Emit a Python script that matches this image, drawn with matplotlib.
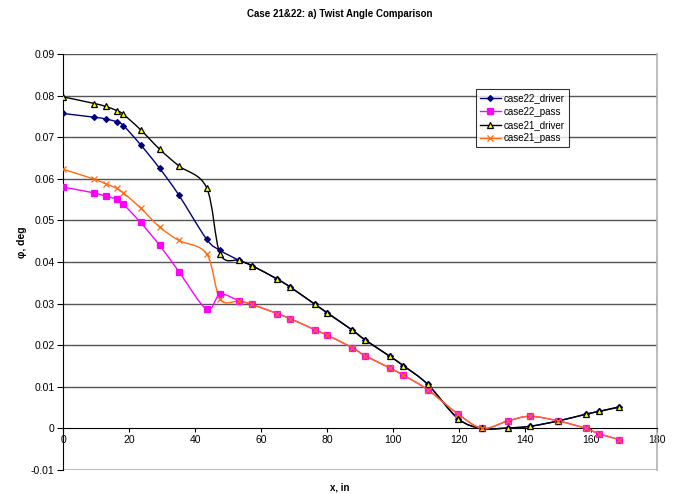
import numpy as np
import matplotlib
matplotlib.use("Agg")
import matplotlib.pyplot as plt
from matplotlib.path import Path
from matplotlib.patches import PathPatch
from matplotlib.lines import Line2D

plt.rcParams["font.family"] = ["Liberation Sans", "DejaVu Sans"]

x_in = [0, 9.5, 12.9, 16.3, 18.3, 23.5, 29.3, 35.1, 43.5, 47.6, 53.4, 57.3,
        64.9, 68.8, 76.4, 80.1, 87.7, 91.5, 99.1, 103.1, 110.5, 119.8, 127.1,
        134.8, 141.5, 150.1, 158.4, 162.5, 168.6]

case22_driver = [0.0757, 0.0748, 0.0744, 0.0737, 0.0728, 0.0682, 0.0625, 0.0561,
                 0.0455, 0.0428, 0.0404, 0.0391, 0.0359, 0.0340, 0.0298, 0.0278,
                 0.0236, 0.0213, 0.0173, 0.0151, 0.0106, 0.0023, 0.0000, 0.0001,
                 0.0005, 0.0018, 0.0034, 0.0041, 0.0051]
case22_pass = [0.0580, 0.0566, 0.0558, 0.0551, 0.0539, 0.0495, 0.0440, 0.0377,
               0.0287, 0.0322, 0.0307, 0.0298, 0.0276, 0.0264, 0.0237, 0.0224,
               0.0194, 0.0175, 0.0145, 0.0128, 0.0093, 0.0034, 0.0000, 0.0018,
               0.0029, 0.0018, 0.0000, -0.0013, -0.0027]
case21_driver = [0.0797, 0.0781, 0.0774, 0.0764, 0.0755, 0.0718, 0.0671, 0.0631,
                 0.0579, 0.0420, 0.0404, 0.0391, 0.0359, 0.0340, 0.0298, 0.0277,
                 0.0236, 0.0213, 0.0173, 0.0151, 0.0106, 0.0023, 0.0000, 0.0001,
                 0.0005, 0.0018, 0.0034, 0.0041, 0.0052]
case21_pass = [0.0623, 0.0599, 0.0588, 0.0577, 0.0566, 0.0530, 0.0484, 0.0452,
               0.0420, 0.0311, 0.0306, 0.0298, 0.0276, 0.0264, 0.0237, 0.0224,
               0.0194, 0.0175, 0.0145, 0.0128, 0.0093, 0.0034, 0.0000, 0.0018,
               0.0029, 0.0018, 0.0000, -0.0013, -0.0027]

x_ticks = [0, 20, 40, 60, 80, 100, 120, 140, 160, 180]
y_ticks = [-0.01, 0, 0.01, 0.02, 0.03, 0.04, 0.05, 0.06, 0.07, 0.08, 0.09]


def smooth_path(xs, ys):
    # Excel-style smoothed line: cubic Bezier through each point
    p = np.column_stack([xs, ys]).astype(float)
    n = len(p)
    verts = [p[0]]
    codes = [Path.MOVETO]
    for i in range(n - 1):
        p0 = p[i - 1] if i > 0 else p[i]
        p3 = p[i + 2] if i + 2 < n else p[i + 1]
        c1 = p[i] + (p[i + 1] - p0) / 6.0
        c2 = p[i + 1] - (p3 - p[i]) / 6.0
        verts += [c1, c2, p[i + 1]]
        codes += [Path.CURVE4] * 3
    return Path(verts, codes)


series = [
    ("case22_driver", case22_driver, dict(color="#000080", marker="D", ms=3,
                                          mfc="#000080", mec="#000080")),
    ("case22_pass", case22_pass, dict(color="#FF00FF", marker="s", ms=4.5,
                                      mfc="#FF00FF", mec="#FF00FF")),
    ("case21_driver", case21_driver, dict(color="#000000", marker="^", ms=4.5,
                                          mfc="#FFFF00", mec="#000000")),
    ("case21_pass", case21_pass, dict(color="#FF6A13", marker="x", ms=4.5,
                                      mfc="#FF6A13", mec="#FF6A13")),
]

fig = plt.figure(figsize=(6.78, 4.94), dpi=100)
ax = fig.add_axes([63 / 678, 24 / 494, 594 / 678, 416 / 494])

ax.set_xlim(0, 180)
ax.set_ylim(-0.01, 0.09)

for yv in y_ticks[2:]:
    ax.axhline(yv, color="#555555", lw=1.0, zorder=1)
ax.axhline(-0.01, color="#b0b0b0", lw=1.2, zorder=1)

handles = []
for label, ys, st in series:
    ax.add_patch(PathPatch(smooth_path(x_in, ys), fill=False,
                           edgecolor=st["color"], lw=1.0, zorder=3))
    ax.plot(x_in, ys, linestyle="none", marker=st["marker"], ms=st["ms"],
            mfc=st["mfc"], mec=st["mec"], mew=0.9, zorder=4)
    handles.append(Line2D([], [], color=st["color"], lw=1.0, marker=st["marker"],
                          ms=st["ms"], mfc=st["mfc"], mec=st["mec"], mew=0.9,
                          label=label))

ax.spines["bottom"].set_position(("data", 0))
ax.spines["bottom"].set_color("black")
ax.spines["left"].set_color("black")
ax.spines["top"].set_visible(False)
ax.spines["right"].set_color("#b0b0b0")
ax.spines["right"].set_linewidth(1.2)

ax.set_xticks(x_ticks)
ax.set_xticklabels([str(v) for v in x_ticks])
ax.set_yticks(y_ticks)
ax.set_yticklabels(["-0.01", "0", "0.01", "0.02", "0.03", "0.04", "0.05",
                    "0.06", "0.07", "0.08", "0.09"])
ax.tick_params(axis="x", direction="out", length=3, labelsize=7.5, pad=2)
ax.tick_params(axis="y", direction="out", length=4, labelsize=7.5, pad=2)

fig.text(340 / 678, 1 - 14 / 494, "Case 21&22: a) Twist Angle Comparison",
         ha="center", va="center", fontsize=7, fontweight="bold")
fig.text(340 / 678, 1 - 487 / 494, "x, in", ha="center", va="center",
         fontsize=7, fontweight="bold")
fig.text(22 / 678, 1 - 242 / 494, "\u03c6, deg", ha="center", va="center",
         rotation=90, fontsize=7.5, fontweight="bold")

leg = ax.legend(handles=handles, loc="upper left", bbox_to_anchor=(0.695, 0.915),
                fontsize=7, frameon=True, fancybox=False, handlelength=2.2,
                borderpad=0.4, labelspacing=0.35, handletextpad=0.3,
                borderaxespad=0)
leg.get_frame().set_edgecolor("black")
leg.get_frame().set_linewidth(0.8)
leg.set_zorder(10)

fig.savefig("out.png", dpi=100)
